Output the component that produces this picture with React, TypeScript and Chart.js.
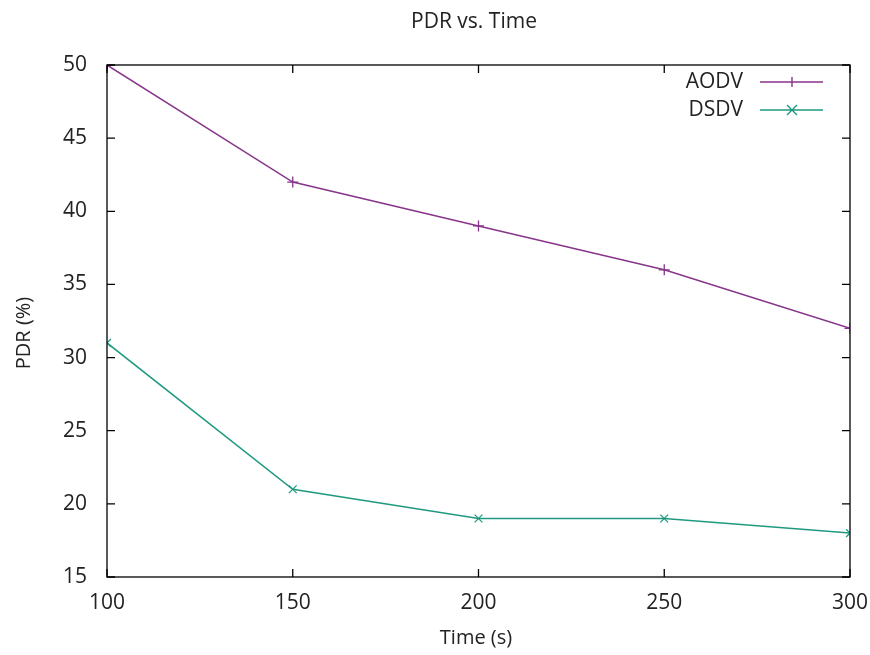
import React, { useEffect, useRef } from "react";
import { Chart, registerables } from "chart.js";

Chart.register(...registerables);

const times = [100, 150, 200, 250, 300];
const aodv = [50, 42, 39, 36, 32];
const dsdv = [31, 21, 19, 19, 18];
const xTicks = [100, 150, 200, 250, 300];
const yTicks = [15, 20, 25, 30, 35, 40, 45, 50];

const AODV_COLOR = "#86358a";
const DSDV_COLOR = "#1f9a80";
const TEXT_COLOR = "#222222";
const FONT = "'Open Sans', 'Liberation Sans', sans-serif";
const FS = 21;

const framePlugin = {
  id: "gnuFrame",
  afterDatasetsDraw(chart: any) {
    const { ctx, chartArea } = chart;
    const { left, right, top, bottom } = chartArea;
    const xs = chart.scales.x;
    const ys = chart.scales.y;
    ctx.save();
    ctx.strokeStyle = "#000";
    ctx.lineWidth = 1.3;
    ctx.strokeRect(left, top, right - left, bottom - top);
    const tl = 8;
    ctx.beginPath();
    xTicks.forEach((v) => {
      const px = xs.getPixelForValue(v);
      ctx.moveTo(px, bottom);
      ctx.lineTo(px, bottom - tl);
      ctx.moveTo(px, top);
      ctx.lineTo(px, top + tl);
    });
    yTicks.forEach((v) => {
      const py = ys.getPixelForValue(v);
      ctx.moveTo(left, py);
      ctx.lineTo(left + tl, py);
      ctx.moveTo(right, py);
      ctx.lineTo(right - tl, py);
    });
    ctx.stroke();

    // Titles
    ctx.fillStyle = TEXT_COLOR;
    ctx.font = `${FS}px ${FONT}`;
    ctx.textAlign = "center";
    ctx.textBaseline = "middle";
    ctx.fillText("PDR vs. Time", 474, 22);
    ctx.font = `${FS - 1}px ${FONT}`;
    ctx.fillText("Time (s)", 476, 638);
    ctx.save();
    ctx.translate(24, 333);
    ctx.rotate(-Math.PI / 2);
    ctx.fillText("PDR (%)", 0, 0);
    ctx.restore();

    // Legend
    const entries = [
      { label: "AODV", color: AODV_COLOR, style: "plus", y: 82 },
      { label: "DSDV", color: DSDV_COLOR, style: "x", y: 110 },
    ];
    entries.forEach((e) => {
      ctx.fillStyle = TEXT_COLOR;
      ctx.font = `${FS}px ${FONT}`;
      ctx.textAlign = "right";
      ctx.textBaseline = "middle";
      ctx.fillText(e.label, 743, e.y);
      ctx.strokeStyle = e.color;
      ctx.lineWidth = 1.4;
      ctx.beginPath();
      ctx.moveTo(760, e.y);
      ctx.lineTo(823, e.y);
      const cx = 792;
      const r = 5;
      if (e.style === "plus") {
        ctx.moveTo(cx, e.y - r);
        ctx.lineTo(cx, e.y + r);
      } else {
        ctx.moveTo(cx - r, e.y - r);
        ctx.lineTo(cx + r, e.y + r);
        ctx.moveTo(cx - r, e.y + r);
        ctx.lineTo(cx + r, e.y - r);
      }
      ctx.stroke();
    });
    ctx.restore();
  },
};

export default function App() {
  const ref = useRef<HTMLCanvasElement | null>(null);
  useEffect(() => {
    if (!ref.current) return;
    const chart = new Chart(ref.current, {
      type: "line",
      data: {
        datasets: [
          {
            label: "AODV",
            data: times.map((t, i) => ({ x: t, y: aodv[i] })),
            borderColor: AODV_COLOR,
            backgroundColor: AODV_COLOR,
            borderWidth: 1.5,
            pointStyle: "cross",
            pointRadius: 5.5,
            pointBorderWidth: 1.3,
            tension: 0,
          },
          {
            label: "DSDV",
            data: times.map((t, i) => ({ x: t, y: dsdv[i] })),
            borderColor: DSDV_COLOR,
            backgroundColor: DSDV_COLOR,
            borderWidth: 1.5,
            pointStyle: "crossRot",
            pointRadius: 5.5,
            pointBorderWidth: 1.3,
            tension: 0,
          },
        ],
      },
      options: {
        animation: false,
        responsive: false,
        maintainAspectRatio: false,
        layout: { padding: { top: 65, right: 20, left: 0, bottom: 0 } },
        plugins: {
          legend: { display: false },
          title: { display: false },
          tooltip: { enabled: false },
        },
        scales: {
          x: {
            type: "linear",
            min: 100,
            max: 300,
            grid: { display: false, drawTicks: false },
            border: { display: false },
            afterFit: (s: any) => {
              s.height = 78;
              s.paddingLeft = 0;
              s.paddingRight = 0;
            },
            afterBuildTicks: (s: any) => {
              s.ticks = xTicks.map((v) => ({ value: v }));
            },
            ticks: {
              color: TEXT_COLOR,
              font: { family: FONT, size: FS },
              padding: 13,
              maxRotation: 0,
            },
          },
          y: {
            type: "linear",
            min: 15,
            max: 50,
            grid: { display: false, drawTicks: false },
            border: { display: false },
            afterFit: (s: any) => {
              s.width = 107;
              s.paddingTop = 0;
              s.paddingBottom = 0;
            },
            afterBuildTicks: (s: any) => {
              s.ticks = yTicks.map((v) => ({ value: v }));
            },
            ticks: {
              color: TEXT_COLOR,
              font: { family: FONT, size: FS },
              padding: 20,
            },
          },
        },
      },
      plugins: [framePlugin],
    });
    return () => chart.destroy();
  }, []);
  return (
    <div style={{ position: "absolute", left: 0, top: 0, width: 870, height: 655, background: "#fff" }}>
      <canvas ref={ref} width={870} height={655} style={{ width: 870, height: 655 }} />
    </div>
  );
}
